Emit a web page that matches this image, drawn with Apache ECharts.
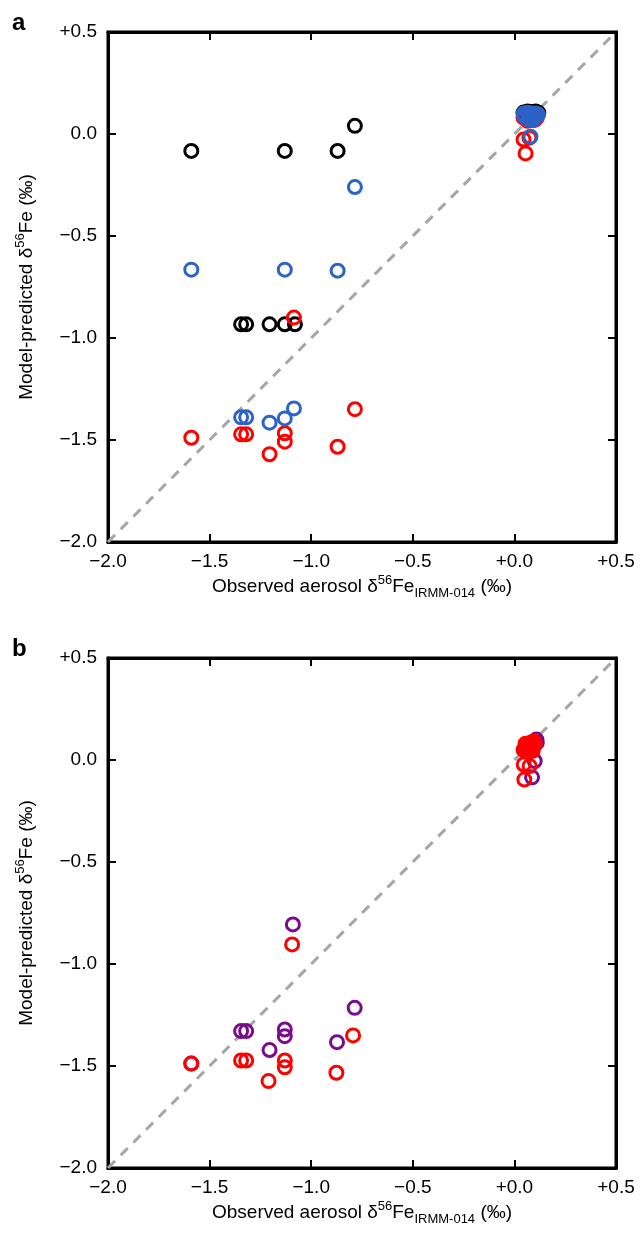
<!DOCTYPE html>
<html>
<head>
<meta charset="utf-8">
<script src="https://cdn.jsdelivr.net/npm/echarts@6/dist/echarts.min.js"></script>
<style>
html,body{margin:0;padding:0;background:#fff;}
#chart{width:640px;height:1234px;}
</style>
</head>
<body>
<div id="chart"></div>
<script>
// ---- tick labels ----
const xTickLabels = ['\u22122.0','\u22121.5','\u22121.0','\u22120.5','+0.0','+0.5'];
const yTickLabels = ['\u22122.0','\u22121.5','\u22121.0','\u22120.5','0.0','+0.5'];
const panelLabels = ['a','b'];
// 1:1 reference line endpoints
const oneToOne = [[-2.0,-2.0],[0.5,0.5]];

// ---- panel a ----
const aBlack = [
  [-1.59,-0.083],[-1.13,-0.083],[-0.87,-0.083],[-0.785,0.04],
  [-1.345,-0.933],[-1.32,-0.933],[-1.205,-0.933],[-1.13,-0.933],[-1.08,-0.933],
  [0.045,0.105],[0.065,0.11],[0.085,0.108],[0.105,0.11],[0.118,0.104],
  [0.055,0.09],[0.08,0.09],[0.10,0.092],[0.075,0.075],[0.09,0.074]
];
const aRed = [
  [-1.59,-1.489],[-1.345,-1.472],[-1.32,-1.472],[-1.205,-1.570],[-1.13,-1.467],[-1.13,-1.508],
  [-1.085,-0.900],[-0.87,-1.533],[-0.785,-1.349],
  [0.045,-0.027],[0.074,-0.018],[0.055,-0.095],
  [0.045,0.08],[0.11,0.08],[0.07,0.09],[0.09,0.095],[0.065,0.065],[0.10,0.07]
];
const aBlue = [
  [-1.59,-0.665],[-1.13,-0.665],[-0.87,-0.67],[-0.785,-0.26],
  [-1.345,-1.389],[-1.32,-1.389],[-1.205,-1.415],[-1.13,-1.394],[-1.085,-1.345],
  [0.045,0.10],[0.065,0.104],[0.085,0.10],[0.105,0.10],[0.116,0.095],
  [0.05,0.085],[0.075,0.085],[0.10,0.085],[0.072,0.07],[0.092,0.068],[0.079,-0.013]
];

// ---- panel b ----
const bPurple = [
  [-1.59,-1.488],[-1.345,-1.329],[-1.32,-1.329],[-1.205,-1.422],[-1.13,-1.321],[-1.13,-1.354],
  [-1.09,-0.806],[-0.873,-1.383],[-0.786,-1.215],
  [0.108,0.10],[0.10,0.08],[0.05,0.05],[0.09,0.06],[0.10,-0.005],[0.087,-0.085],[0.07,0.04],[0.11,0.085]
];
const bRed = [
  [-1.59,-1.488],[-1.345,-1.473],[-1.32,-1.473],[-1.21,-1.574],[-1.13,-1.473],[-1.13,-1.506],
  [-1.094,-0.904],[-0.876,-1.533],[-0.794,-1.350],
  [0.046,-0.022],[0.075,-0.03],[0.049,-0.096],
  [0.045,0.05],[0.06,0.065],[0.07,0.075],[0.08,0.085],[0.095,0.092],[0.10,0.075],[0.085,0.06],
  [0.065,0.04],[0.055,0.08],[0.075,0.055],[0.09,0.045]
];

const FONT = 'Liberation Sans, Arial, Helvetica, sans-serif';
const COL = {black:'#000000', red:'#ff0000', blue:'#2b63c6', purple:'#7a0a8e'};

const chart = echarts.init(document.getElementById('chart'), null, {renderer:'canvas'});

const gridTops = [32, 658];
const grids = gridTops.map(t => ({left:108, top:t, width:508, height:510, show:true,
  borderColor:'#000', borderWidth:3, backgroundColor:'transparent'}));

const richName = {
  n:{fontSize:19, fontFamily:FONT, color:'#000', lineHeight:26, verticalAlign:'middle'},
  sup:{fontSize:13, fontFamily:FONT, color:'#000', lineHeight:13, verticalAlign:'top'},
  sub:{fontSize:13, fontFamily:FONT, color:'#000', lineHeight:13, verticalAlign:'bottom'}
};
const xName = '{n|Observed aerosol \u03b4}{sup|56}{n|Fe}{sub|IRMM-014}{n| (\u2030)}';
const yName = '{n|Model-predicted \u03b4}{sup|56}{n|Fe (\u2030)}';

function xAxisFor(g){
  return [{
    gridIndex:g, type:'value', min:-2, max:0.5, interval:0.5, position:'bottom',
    axisLine:{show:true, onZero:false, lineStyle:{color:'#000', width:3}},
    axisTick:{show:true, inside:true, length:8, lineStyle:{color:'#000', width:2}},
    splitLine:{show:false},
    axisLabel:{show:true, margin:10, color:'#000', fontSize:19, fontFamily:FONT,
      formatter:(v)=>xTickLabels[Math.round((v+2)/0.5)]},
    name:xName, nameLocation:'middle', nameGap:32,
    nameTextStyle:{rich:richName}
  },{
    gridIndex:g, type:'value', min:-2, max:0.5, interval:0.5, position:'top',
    axisLine:{show:true, onZero:false, lineStyle:{color:'#000', width:3}},
    axisTick:{show:true, inside:true, length:8, lineStyle:{color:'#000', width:2}},
    splitLine:{show:false}, axisLabel:{show:false}
  }];
}
function yAxisFor(g){
  return [{
    gridIndex:g, type:'value', min:-2, max:0.5, interval:0.5, position:'left',
    axisLine:{show:true, onZero:false, lineStyle:{color:'#000', width:3}},
    axisTick:{show:true, inside:true, length:8, lineStyle:{color:'#000', width:2}},
    splitLine:{show:false},
    axisLabel:{show:true, margin:11, color:'#000', fontSize:19, fontFamily:FONT,
      formatter:(v)=>yTickLabels[Math.round((v+2)/0.5)]},
    name:yName, nameLocation:'middle', nameGap:68, nameRotate:90,
    nameTextStyle:{rich:richName}
  },{
    gridIndex:g, type:'value', min:-2, max:0.5, interval:0.5, position:'right',
    axisLine:{show:true, onZero:false, lineStyle:{color:'#000', width:3}},
    axisTick:{show:true, inside:true, length:8, lineStyle:{color:'#000', width:2}},
    splitLine:{show:false}, axisLabel:{show:false}
  }];
}

function scatter(data, color, axisIdx, z){
  return {type:'scatter', data:data, xAxisIndex:axisIdx, yAxisIndex:axisIdx,
    symbol:'circle', symbolSize:13, z:z, silent:true,
    itemStyle:{color:'rgba(0,0,0,0)', borderColor:color, borderWidth:3, opacity:1},
    emphasis:{disabled:true}};
}
function diag(axisIdx){
  return {type:'line', data:oneToOne, xAxisIndex:axisIdx, yAxisIndex:axisIdx,
    symbol:'none', silent:true, z:1,
    lineStyle:{type:[10,8], color:'#a6a6a6', width:3}};
}

const option = {
  animation:false,
  backgroundColor:'#fff',
  grid:grids,
  xAxis:[...xAxisFor(0), ...xAxisFor(1)],
  yAxis:[...yAxisFor(0), ...yAxisFor(1)],
  series:[
    diag(0),
    scatter(aBlack, COL.black, 0, 2),
    scatter(aRed, COL.red, 0, 3),
    scatter(aBlue, COL.blue, 0, 4),
    diag(2),
    scatter(bPurple, COL.purple, 2, 2),
    scatter(bRed, COL.red, 2, 3)
  ],
  graphic:[
    {type:'text', left:12, top:11, style:{text:panelLabels[0], font:'bold 24px '+FONT, fill:'#000'}},
    {type:'text', left:12, top:637, style:{text:panelLabels[1], font:'bold 24px '+FONT, fill:'#000'}}
  ]
};
chart.setOption(option);
</script>
</body>
</html>
